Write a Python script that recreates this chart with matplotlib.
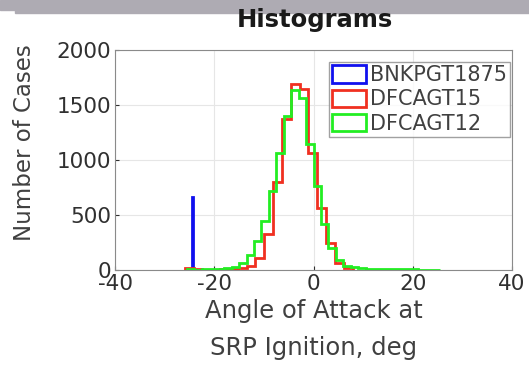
import numpy as np
import matplotlib
matplotlib.use("Agg")
from matplotlib import pyplot as plt
from matplotlib.patches import Rectangle, Patch

# bin edges / counts
red_edges = np.round(-25.96 + 1.78 * np.arange(20), 2)
red_counts = [20, 5, 3, 3, 5, 8, 15, 40, 110, 330, 800, 1370, 1690, 1650, 1060, 560, 245, 65, 15]

green_edges = np.round(-25.5 + 1.5 * np.arange(35), 2)
green_counts = [5, 3, 5, 8, 10, 15, 30, 60, 140, 260, 450, 720, 1060, 1400, 1640, 1560, 1150,
                760, 420, 200, 90, 40, 25, 15, 12, 10, 8, 7, 6, 5, 5, 4, 3, 3]

blue_edges = [-24.45, -24.35]
blue_counts = [660]

labels = ["BNKPGT1875", "DFCAGT15", "DFCAGT12"]
colors = ['#1010ee', '#f03020', '#22ee22']
xticks = [-40, -20, 0, 20, 40]
yticks = [0, 500, 1000, 1500, 2000]

plt.rcParams['font.family'] = ['DejaVu Sans']
W, H = 529, 367
fig = plt.figure(figsize=(W / 100, H / 100), dpi=100)
ax = fig.add_axes([115 / W, 1 - 270 / H, 397 / W, 220 / H])

# grey strip at the top of the screenshot
fig.patches.append(Rectangle((0, 1 - 10 / H), 1, 10 / H, transform=fig.transFigure,
                             color='#aeabb3', zorder=0))
fig.patches.append(Rectangle((15 / W, 1 - 13 / H), 1, 3 / H, transform=fig.transFigure,
                             color='#aeabb3', zorder=0))

ax.stairs(blue_counts, blue_edges, color=colors[0], lw=2, baseline=0)
ax.stairs(red_counts, red_edges, color=colors[1], lw=2, baseline=0)
ax.stairs(green_counts, green_edges, color=colors[2], lw=2, baseline=0)

ax.set_xlim(-40, 40)
ax.set_ylim(0, 2000)
ax.set_xticks(xticks)
ax.set_yticks(yticks)
ax.set_xticklabels([str(t) for t in xticks])
ax.grid(True, color='#e6e6e6', lw=0.8)
ax.set_axisbelow(True)
ax.tick_params(direction='in', length=3, labelsize=15.5, colors='#303030', pad=3)
ax.tick_params(axis='x', pad=3)
for s in ax.spines.values():
    s.set_color('#8a8a8a')

fig.text(315 / W, 1 - 20 / H, "Histograms", fontsize=17.5, fontweight='bold',
         color='#1a1a1a', ha='center', va='center')
ax.set_xlabel("Angle of Attack at\nSRP Ignition, deg", fontsize=17.5, color='#404040',
              linespacing=1.7)
ax.xaxis.set_label_coords(0.5, -0.13)
ax.set_ylabel("Number of Cases", fontsize=16.5, color='#404040')
ax.yaxis.set_label_coords(-0.2, 0.58)

handles = [Patch(facecolor='white', edgecolor=c, lw=2) for c in colors]
leg = ax.legend(handles, labels, loc='upper right', fontsize=15, frameon=True,
                fancybox=False, borderpad=0.15, labelspacing=0.2, handlelength=1.6,
                handleheight=0.9, handletextpad=0.2, borderaxespad=0.0,
                bbox_to_anchor=(0.995, 0.945))
leg.get_frame().set_edgecolor('#8a8a8a')
leg.get_frame().set_linewidth(1)
for t in leg.get_texts():
    t.set_color('#404040')

fig.savefig("out.png", dpi=100)
